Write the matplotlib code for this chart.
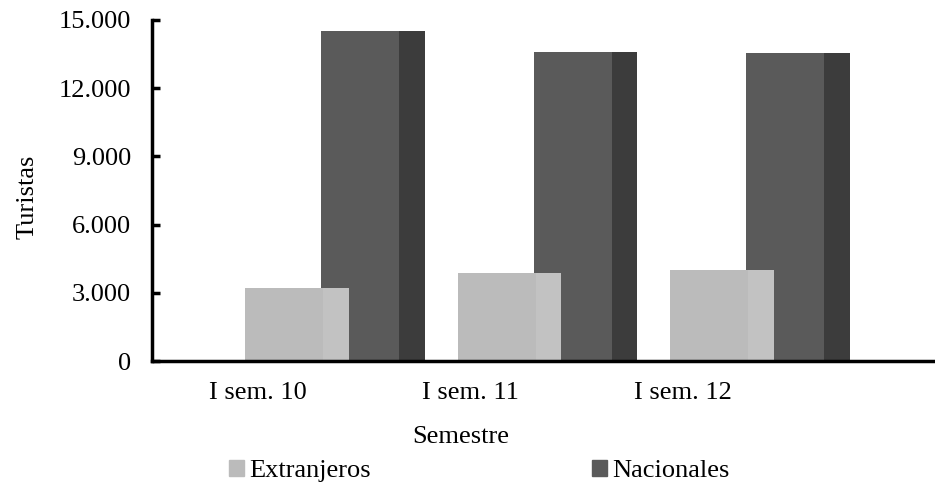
import matplotlib.pyplot as plt
import numpy as np
from matplotlib.patches import Patch
from matplotlib.ticker import FuncFormatter

semestres = ['I sem. 10', 'I sem. 11', 'I sem. 12']
extranjeros = [3200, 3850, 4000]
nacionales = [14500, 13600, 13550]
series = ['Extranjeros', 'Nacionales']


def miles(v, pos):
    return '{:,.0f}'.format(v).replace(',', '.')


def main():
    plt.rcParams['font.family'] = ['Liberation Serif', 'DejaVu Serif']
    fig = plt.figure(figsize=(9.35, 4.87), dpi=100)
    ax = fig.add_axes([152 / 935, 1 - 361 / 487, 1 - 152 / 935, 341 / 487])

    x = np.arange(len(semestres))
    front_w = 0.367
    side_w = 0.12

    # Nacionales (behind), front face and side face
    ax.bar(x + 0.296, nacionales, width=front_w, align='edge', color='#5a5a5a', zorder=2)
    ax.bar(x + 0.296 + front_w, nacionales, width=side_w, align='edge', color='#3c3c3c', zorder=2)
    # Extranjeros (in front)
    ax.bar(x - 0.061, extranjeros, width=front_w, align='edge', color='#bbbbbb', zorder=3)
    ax.bar(x - 0.061 + front_w, extranjeros, width=side_w, align='edge', color='#c2c2c2', zorder=3)

    ax.set_xlim(-0.5, -0.5 + 783 / 212.5)
    ax.set_ylim(0, 15000)
    ax.set_yticks(np.arange(0, 15001, 3000))
    ax.yaxis.set_major_formatter(FuncFormatter(miles))

    ax.set_xticks(x)
    ax.set_xticklabels(semestres)
    ax.set_xticks(x + 0.5, minor=True)
    ax.tick_params(axis='x', which='major', length=0, pad=15, labelsize=19)
    ax.tick_params(axis='x', which='minor', direction='in', length=6, width=2)
    ax.tick_params(axis='y', direction='in', length=6, width=2.5, pad=15, labelsize=19)

    for s in ['top', 'right']:
        ax.spines[s].set_visible(False)
    for s in ['left', 'bottom']:
        ax.spines[s].set_linewidth(2.5)
    ax.spines['bottom'].set_zorder(4)

    fig.text(28 / 935, 1 - 197 / 487, 'Turistas', rotation=90, ha='center', va='center', fontsize=19)
    fig.text(461 / 935, 1 - 437 / 487, 'Semestre', ha='center', va='center', fontsize=19)

    handles = [Patch(color='#bbbbbb'), Patch(color='#5a5a5a')]
    fig.legend(handles, series, ncol=2, loc='center left', bbox_to_anchor=(229 / 935, 1 - 471 / 487),
               frameon=False, fontsize=19, handlelength=0.55, handleheight=0.55,
               handletextpad=0.2, columnspacing=8.4, borderpad=0, borderaxespad=0)

    fig.savefig('out.png', dpi=100)


if __name__ == '__main__':
    main()
